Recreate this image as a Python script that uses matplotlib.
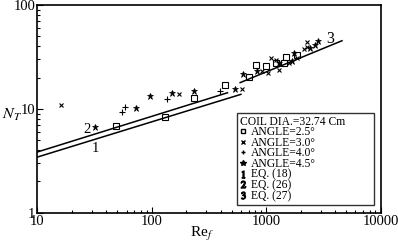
import matplotlib
matplotlib.use('Agg')
import matplotlib.pyplot as plt
from matplotlib.lines import Line2D

plt.rcParams['font.family'] = ['Liberation Serif', 'DejaVu Serif']
plt.rcParams['mathtext.fontset'] = 'stix'

# data (Re_f, N_T)
re_25 = [49, 130, 235, 437, 713, 811, 991, 1221, 1415, 1483, 1853]
nt_25 = [6.8, 8.4, 12.8, 16.9, 20.1, 26.3, 26.1, 27.5, 27.5, 31.4, 33.0]

re_30 = [16.1, 173, 611, 915, 1032, 1104, 1221, 1297, 1566, 1853, 2120, 2267, 2267]
nt_30 = [11.0, 13.8, 15.4, 23.2, 22.0, 31.1, 29.6, 23.5, 27.5, 30.7, 37.5, 44.1, 39.7]

re_40 = [55.2, 58.3, 135, 395]
nt_40 = [9.3, 10.4, 12.4, 15.0]

re_45 = [31.8, 72.3, 97, 149, 235, 534, 623, 828, 1280, 1674, 1755, 2420, 2677, 2827]
nt_45 = [6.7, 10.1, 13.2, 14.1, 14.9, 15.4, 21.5, 23.3, 27.5, 28.9, 34.3, 38.8, 41.2, 45.3]

# correlation lines (end points)
eq18_re = [10, 600]
eq18_nt = [3.44, 13.8]
eq26_re = [10, 458]
eq26_nt = [3.85, 14.3]
eq27_re = [591, 4590]
eq27_nt = [17.9, 45.3]

fig = plt.figure(figsize=(3.98, 2.44), dpi=100)
ax = fig.add_axes([0.0942, 0.128, 0.8623, 0.8515])

ax.plot(eq18_re, eq18_nt, color='black', lw=1.1)
ax.plot(eq26_re, eq26_nt, color='black', lw=1.1)
ax.plot(eq27_re, eq27_nt, color='black', lw=1.1)

ax.plot(re_25, nt_25, 's', mfc='none', mec='black', ms=4, mew=0.8, ls='none')
ax.plot(re_30, nt_30, 'x', color='black', ms=3.5, mew=0.8, ls='none')
ax.plot(re_40, nt_40, '+', color='black', ms=4, mew=0.8, ls='none')
ax.plot(re_45, nt_45, '*', color='black', ms=4.5, mew=0.5, ls='none')

ax.text(27, 6.4, '2', fontsize=10.5, ha='center', va='center')
ax.text(31.8, 4.2, '1', fontsize=10.5, ha='center', va='center')
ax.text(3620, 47, '3', fontsize=11.5, ha='center', va='center')

ax.set_xscale('log')
ax.set_yscale('log')
ax.set_xlim(10, 10000)
ax.set_ylim(1, 100)

ax.set_xticks([10, 100, 1000, 10000])
ax.set_xticklabels(['10', '100', '1000', '10000'])
ax.set_yticks([1, 10, 100])
ax.set_yticklabels(['1', '10', '100'])
ax.tick_params(which='both', direction='in', top=False, right=False,
               labelsize=10.5, width=0.8, pad=1.5)
ax.tick_params(which='major', length=4)
ax.tick_params(which='minor', length=2)
for sp in ax.spines.values():
    sp.set_linewidth(1.2)

ax.set_xlabel('Re$_f$', fontsize=11)
ax.xaxis.set_label_coords(0.48, -0.06)
ax.set_ylabel('$N_T$', fontsize=11.5, rotation=0)
ax.yaxis.set_label_coords(-0.074, 0.43)

handles = [
    Line2D([], [], marker='s', mfc='none', mec='black', ms=3.5, ls='none'),
    Line2D([], [], marker='x', color='black', ms=3, ls='none'),
    Line2D([], [], marker='+', color='black', ms=3.5, ls='none'),
    Line2D([], [], marker='*', color='black', ms=4, ls='none'),
    Line2D([], [], marker='$1$', color='black', ms=5, ls='none'),
    Line2D([], [], marker='$2$', color='black', ms=5, ls='none'),
    Line2D([], [], marker='$3$', color='black', ms=5, ls='none'),
]
labels = ['ANGLE=2.5°', 'ANGLE=3.0°', 'ANGLE=4.0°', 'ANGLE=4.5°',
          'EQ. (18)', 'EQ. (26)', 'EQ. (27)']
leg = ax.legend(handles, labels, title='COIL DIA.=32.74 Cm', loc='lower left',
                bbox_to_anchor=(0.581, 0.0385, 0.40, 0.41), mode='expand',
                fontsize=8.4, title_fontsize=8.4,
                labelspacing=-0.12, handlelength=0.6, handletextpad=0.35,
                borderpad=0.25, borderaxespad=0, frameon=True, fancybox=False,
                alignment='left')
leg.get_frame().set_edgecolor('black')
leg.get_frame().set_linewidth(1.0)

fig.savefig('out.png', dpi=100)
